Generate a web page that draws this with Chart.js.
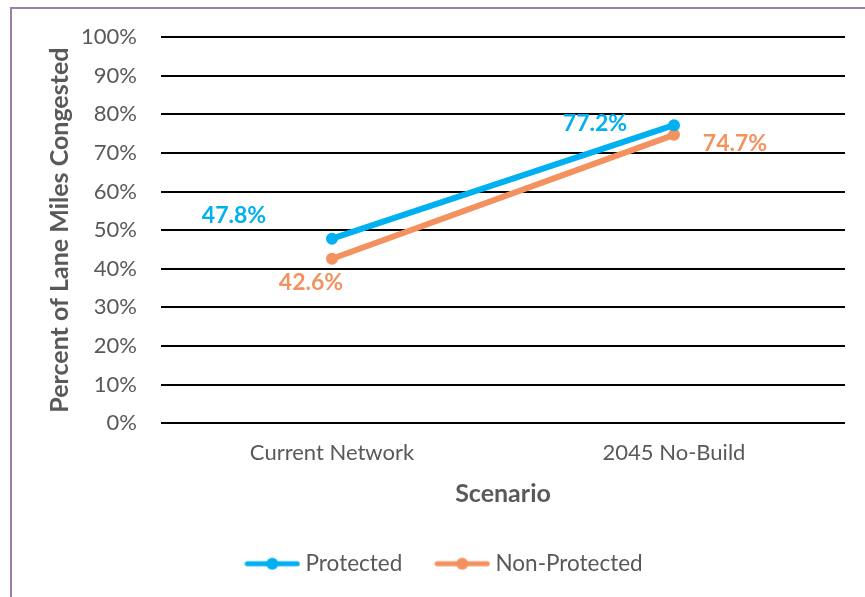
<!DOCTYPE html>
<html>
<head>
<meta charset="utf-8">
<script src="https://cdn.jsdelivr.net/npm/chart.js@4"></script>
<style>
  html, body { margin: 0; padding: 0; background: #fff; }
  #wrap { position: relative; width: 865px; height: 597px; overflow: hidden; }
  #frame { position: absolute; left: 10px; top: 7px; width: 900px; height: 700px;
           border-left: 2px solid #9c7fa8; border-top: 2px solid #9c7fa8; box-sizing: border-box; }
  canvas { position: absolute; left: 0; top: 0; }
</style>
</head>
<body>
<div id="wrap">
  <div id="frame"></div>
  <canvas id="congestionChart" width="865" height="597"></canvas>
</div>
<script>
const scenarios = ["Current Network", "2045 No-Build"];
const protectedShare = [47.8, 77.2];
const nonProtectedShare = [42.6, 74.7];
const seriesNames = ["Protected", "Non-Protected"];
const seriesColors = ["#00b0f0", "#f4925f"];

const FONT = "Lato, 'Open Sans', sans-serif";
const GREY = "#595959";

// legend marker: line with a dot in the middle
function legendMarker(color) {
  const c = document.createElement("canvas");
  c.width = 56; c.height = 14;
  const ctx = c.getContext("2d");
  ctx.strokeStyle = color; ctx.lineWidth = 5; ctx.lineCap = "round";
  ctx.beginPath(); ctx.moveTo(3, 7); ctx.lineTo(53, 7); ctx.stroke();
  ctx.fillStyle = color;
  ctx.beginPath(); ctx.arc(28, 7, 6, 0, Math.PI * 2); ctx.fill();
  return c;
}

// value labels beside each point (offsets in px)
const labelOffsets = [
  [[-98, -23], [-79, -2]],
  [[-21, 24], [61, 9]]
];
const valueLabels = {
  id: "valueLabels",
  afterDatasetsDraw(chart) {
    const ctx = chart.ctx;
    ctx.save();
    ctx.font = "bold 23px " + FONT;
    ctx.textAlign = "center";
    ctx.textBaseline = "middle";
    chart.data.datasets.forEach((ds, i) => {
      chart.getDatasetMeta(i).data.forEach((pt, j) => {
        const off = labelOffsets[i][j];
        ctx.fillStyle = ds.borderColor;
        ctx.fillText(ds.data[j].toFixed(1) + "%", pt.x + off[0], pt.y + off[1]);
      });
    });
    ctx.restore();
  }
};

// nudge the legend a little to the right
const legendShift = {
  id: "legendShift",
  afterLayout(chart) {
    if (chart.legend) { chart.legend.left += 6; chart.legend.right += 6; }
  }
};

new Chart(document.getElementById("congestionChart"), {
  type: "line",
  data: {
    labels: scenarios,
    datasets: [
      { label: seriesNames[0], data: protectedShare, borderColor: seriesColors[0],
        backgroundColor: seriesColors[0], borderWidth: 6, pointRadius: 6,
        pointBackgroundColor: seriesColors[0], pointBorderWidth: 0 },
      { label: seriesNames[1], data: nonProtectedShare, borderColor: seriesColors[1],
        backgroundColor: seriesColors[1], borderWidth: 6, pointRadius: 6,
        pointBackgroundColor: seriesColors[1], pointBorderWidth: 0 }
    ]
  },
  options: {
    responsive: false,
    animation: false,
    layout: { padding: { left: 36, right: 20, top: 33, bottom: 12 } },
    scales: {
      x: {
        offset: true,
        grid: { display: false, drawTicks: false },
        border: { display: false },
        ticks: { color: GREY, font: { family: FONT, size: 22 }, padding: 17 },
        title: { display: true, text: "Scenario", color: GREY,
                 font: { family: FONT, size: 25, weight: "bold" }, padding: { top: 0, bottom: 6 } },
        afterFit: s => { s.height -= 5; }
      },
      y: {
        min: 0, max: 100,
        grid: { color: "#000", lineWidth: 2, drawTicks: false },
        border: { display: false },
        ticks: { stepSize: 10, color: GREY, padding: 24,
                 font: { family: FONT, size: 22 }, callback: v => v + "%" },
        title: { display: true, text: "Percent of Lane Miles Congested", color: GREY,
                 font: { family: FONT, size: 25, weight: "bold" }, padding: { top: 9, bottom: 8 } },
        afterFit: s => { s.width = 125; }
      }
    },
    plugins: {
      legend: {
        position: "bottom",
        labels: {
          color: GREY, font: { family: FONT, size: 22.5 },
          usePointStyle: true, pointStyleWidth: 44, padding: 38,
          generateLabels: chart => chart.data.datasets.map((ds, i) => ({
            text: ds.label, fontColor: GREY, pointStyle: legendMarker(ds.borderColor),
            strokeStyle: ds.borderColor, fillStyle: ds.borderColor, lineWidth: 0, datasetIndex: i
          }))
        }
      },
      tooltip: { enabled: false }
    }
  },
  plugins: [valueLabels, legendShift]
});
</script>
</body>
</html>
